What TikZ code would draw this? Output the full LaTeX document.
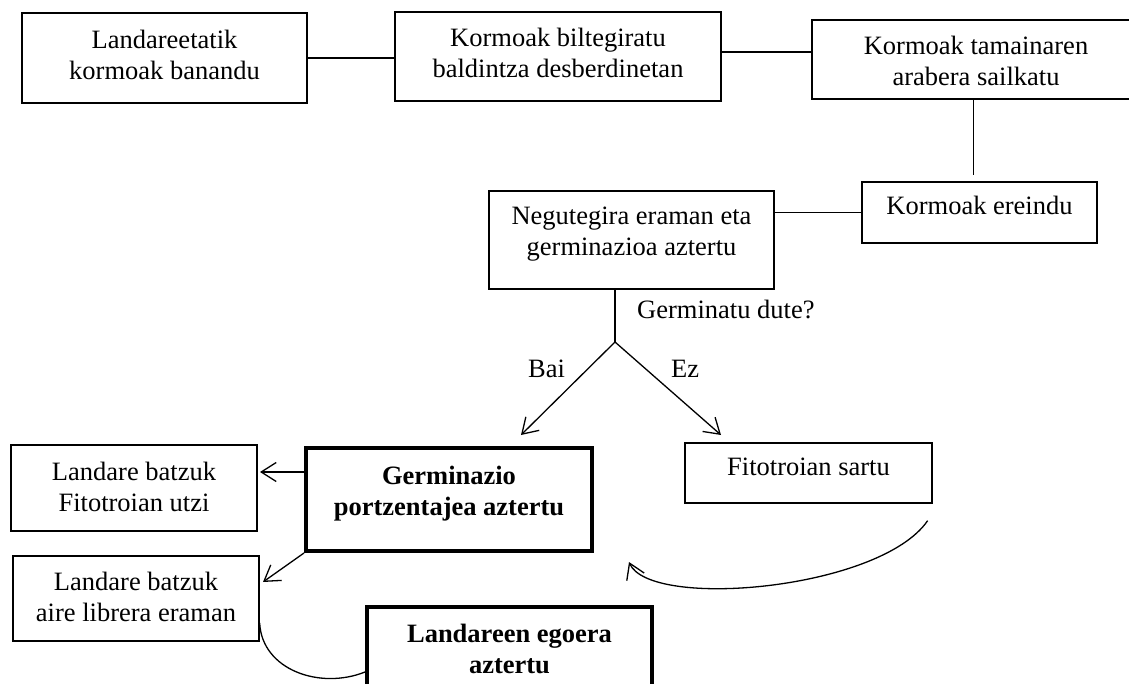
\documentclass[tikz,border=0pt]{standalone}
\usepackage{fontspec}
\setmainfont{Liberation Serif}
\usetikzlibrary{arrows.meta,calc}
\begin{document}
\begin{tikzpicture}[x=1pt,y=-1pt,
  box/.style={draw, line width=1.3pt, inner sep=0pt},
  thickbox/.style={draw, line width=4pt, inner sep=0pt},
  txt/.style={font=\fontsize{26.5}{31}\selectfont, align=center, inner sep=0pt},
  btxt/.style={font=\fontsize{26.5}{31}\selectfont\bfseries, align=center, inner sep=0pt},
  link/.style={line width=1.3pt},
  arr/.style={line width=1.3pt, -{Straight Barb[length=15pt,width=19pt,line width=1.3pt]}}
]
\useasboundingbox (0,0) rectangle (1129,684);
\clip (0,0) rectangle (1129,684);

% process boxes
\node[box, minimum width=285pt, minimum height=90pt] (b1) at (164.5,58) {};
\node[box, minimum width=326pt, minimum height=89pt] (b2) at (558,56.5) {};
\node[box, minimum width=323pt, minimum height=79pt] (b3) at (973.5,59.5) {};
\node[box, minimum width=235pt, minimum height=61pt] (ereindu) at (979.5,212.5) {};
\node[box, minimum width=285pt, minimum height=98pt] (neg) at (631.5,240) {};
\node[thickbox, minimum width=286pt, minimum height=103pt] (germ) at (449,499.5) {};
\node[box, minimum width=247pt, minimum height=60pt] (fito) at (808.5,473) {};
\node[box, minimum width=246pt, minimum height=86pt] (fleft) at (134,488) {};
\node[box, minimum width=246pt, minimum height=85pt] (aire) at (136,598.5) {};
\node[thickbox, minimum width=285pt, minimum height=100pt] (land) at (509.5,657) {};

% box texts
\node[txt] (b1t) at (164.5,55) {Landareetatik\\kormoak banandu};
\node[txt] (b2t) at (558,52.5) {Kormoak biltegiratu\\baldintza desberdinetan};
\node[txt] (b3t) at (976,60.5) {Kormoak tamainaren\\arabera sailkatu};
\node[txt, anchor=base] (ereindut) at (979.5,215) {Kormoak ereindu};
\node[txt] (negt) at (631.5,234) {Negutegira eraman eta\\germinazioa aztertu};
\node[btxt] (germt) at (449,493.4) {Germinazio\\portzentajea aztertu};
\node[txt, anchor=base] (fitot) at (808.5,475) {Fitotroian sartu};
\node[txt] (fleftt) at (134,486.5) {Landare batzuk\\Fitotroian utzi};
\node[txt] (airet) at (136,597) {Landare batzuk\\aire librera eraman};
\node[btxt] (landt) at (509.5,649) {Landareen egoera\\aztertu};

% decision labels
\node[txt, anchor=base west] (question) at (637,319) {Germinatu dute?};
\node[txt, anchor=base west] (yes) at (528,377) {Bai};
\node[txt, anchor=base west] (no) at (671,377) {Ez};

% free connector ends
\coordinate (split) at (615,342);
\coordinate (tipA) at (521,435);
\coordinate (tipB) at (721,435);
\coordinate (tipC) at (263,582);
\coordinate (tipD) at (260,472);
\coordinate (cS) at ($(fito.south east)+(-5,17)$);
\coordinate (cE) at (629,562);

% connectors
\draw[link] (b1.east) -- (b1.east -| b2.west);
\draw[link] ([yshift=4.5pt]b2.east) -- ([yshift=4.5pt]b2.east -| b3.west);
\draw[link, shorten >=6pt] (b3.south) -- (b3.south |- ereindu.north);
\draw[link] (ereindu.west) -- (ereindu.west -| neg.east);
\draw[link] (neg.south -| split) -- (split);
\draw[arr] (split) -- (tipA);
\draw[arr] (split) -- (tipB);
\draw[arr] (germ.west |- tipD) -- (tipD);
\draw[arr] (germ.south west) -- (tipC);
\draw[arr] (cS) .. controls (880,590) and (650,610) .. (cE);
\draw[link] ([yshift=-24.5pt]aire.east) .. controls (262,670) and (320,690) .. ([yshift=-15pt]land.west);
\end{tikzpicture}
\end{document}
